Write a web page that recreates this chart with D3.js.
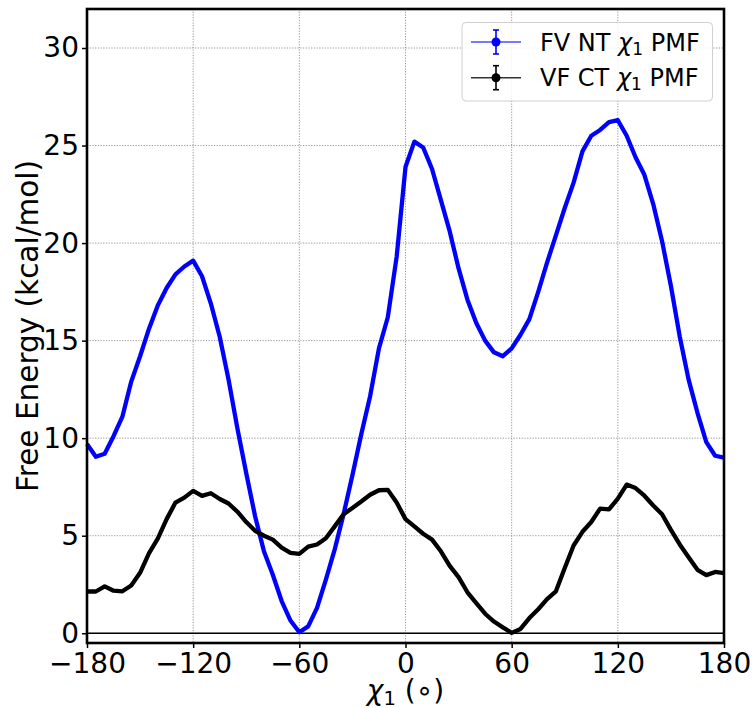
<!DOCTYPE html>
<html lang="en">
<head>
  <meta charset="UTF-8">
  <title>Chi1 PMF</title>
  <script src="https://d3js.org/d3.v7.min.js"></script>
  <style>
    body { margin: 0; background: #fff; }
    text { font-family: "DejaVu Sans", sans-serif; fill: #000; }
  </style>
</head>
<body>
<svg width="753" height="708"></svg>
<script>
  // angle grid (degrees), every 5 degrees
  const angles = d3.range(-180, 181, 5);

  // FV NT chi1 PMF (kcal/mol)
  const fvNT = [
    9.7, 9.05, 9.2, 10.1, 11.1, 12.9, 14.2, 15.6, 16.8, 17.7,
    18.4, 18.8, 19.1, 18.3, 16.9, 15.2, 13.0, 10.5, 8.2, 6.0,
    4.2, 3.0, 1.65, 0.65, 0.05, 0.35, 1.3, 2.75, 4.3, 6.1,
    8.1, 10.2, 12.15, 14.6, 16.2, 19.3, 23.9, 25.2, 24.9, 23.8,
    22.2, 20.6, 18.7, 17.1, 15.9, 15.0, 14.4, 14.2, 14.6, 15.3,
    16.1, 17.5, 19.0, 20.4, 21.8, 23.1, 24.7, 25.5, 25.8, 26.2,
    26.3, 25.5, 24.4, 23.5, 22.0, 20.1, 17.8, 15.2, 13.0, 11.3,
    9.8, 9.1, 9.0
  ];

  // VF CT chi1 PMF (kcal/mol)
  const vfCT = [
    2.14, 2.14, 2.4, 2.18, 2.15, 2.45, 3.1, 4.1, 4.85, 5.85,
    6.7, 6.95, 7.3, 7.04, 7.18, 6.88, 6.65, 6.23, 5.7, 5.25,
    5.0, 4.8, 4.39, 4.12, 4.07, 4.44, 4.55, 4.87, 5.48, 6.1,
    6.42, 6.75, 7.1, 7.33, 7.35, 6.7, 5.85, 5.48, 5.1, 4.8,
    4.2, 3.45, 2.88, 2.1, 1.55, 1.0, 0.6, 0.3, 0.02, 0.22,
    0.78, 1.23, 1.75, 2.15, 3.35, 4.5, 5.2, 5.7, 6.39, 6.35,
    6.9, 7.62, 7.44, 7.05, 6.55, 6.1, 5.3, 4.55, 3.9, 3.25,
    2.98, 3.14, 3.08
  ];

  const xTicks = [-180, -120, -60, 0, 60, 120, 180];
  const yTicks = [0, 5, 10, 15, 20, 25, 30];

  const series = [
    { name: "FV NT", values: fvNT, color: "#0000ff", legendLine: "#4d4dff" },
    { name: "VF CT", values: vfCT, color: "#000000", legendLine: "#333333" }
  ];

  const svg = d3.select("svg");
  const pL = 87, pR = 724, pT = 9, pB = 643;

  const x = d3.scaleLinear().domain([-180, 180]).range([pL, pR]);
  const y = d3.scaleLinear().domain([-0.5, 32]).range([pB, pT]);

  // grid
  const grid = svg.append("g")
      .attr("stroke", "#8a8a8a")
      .attr("stroke-width", 0.9)
      .attr("stroke-dasharray", "1.2,1.5");
  grid.selectAll(".gx").data(xTicks).enter().append("line")
      .attr("x1", d => x(d)).attr("x2", d => x(d))
      .attr("y1", pT).attr("y2", pB);
  grid.selectAll(".gy").data(yTicks).enter().append("line")
      .attr("x1", pL).attr("x2", pR)
      .attr("y1", d => y(d)).attr("y2", d => y(d));

  // zero line
  svg.append("line")
      .attr("x1", pL).attr("x2", pR)
      .attr("y1", y(0)).attr("y2", y(0))
      .attr("stroke", "#000").attr("stroke-width", 1.3);

  // curves
  const line = d3.line()
      .x((d, i) => x(angles[i]))
      .y(d => y(d));

  series.forEach(s => {
    svg.append("path")
        .datum(s.values)
        .attr("fill", "none")
        .attr("stroke", s.color)
        .attr("stroke-width", 4.3)
        .attr("stroke-linejoin", "round")
        .attr("d", line);
  });

  // axes
  const xAxis = svg.append("g")
      .attr("transform", `translate(0,${pB})`)
      .call(d3.axisBottom(x).tickValues(xTicks).tickSize(5).tickPadding(5).tickSizeOuter(0));
  const yAxis = svg.append("g")
      .attr("transform", `translate(${pL},0)`)
      .call(d3.axisLeft(y).tickValues(yTicks).tickSize(5).tickPadding(3).tickSizeOuter(0));

  [xAxis, yAxis].forEach(a => {
    a.select(".domain").remove();
    a.selectAll(".tick line").attr("stroke", "#000").attr("stroke-width", 1.5);
    a.selectAll(".tick text")
        .attr("font-family", "DejaVu Sans")
        .attr("font-size", 28)
        .attr("fill", "#000");
  });
  xAxis.selectAll(".tick text").attr("dy", "0.72em");

  // frame
  svg.append("rect")
      .attr("x", pL).attr("y", pT)
      .attr("width", pR - pL).attr("height", pB - pT)
      .attr("fill", "none")
      .attr("stroke", "#000")
      .attr("stroke-width", 2.6);

  // axis labels
  const xl = svg.append("text")
      .attr("x", (pL + pR) / 2)
      .attr("y", 700)
      .attr("text-anchor", "middle")
      .attr("font-size", 28);
  xl.append("tspan").attr("font-style", "italic").text("χ");
  xl.append("tspan").attr("font-size", 19.5).attr("dy", 5).text("1");
  xl.append("tspan").attr("dy", -5).text(" (∘)");

  svg.append("text")
      .attr("transform", `translate(38,${(pT + pB) / 2}) rotate(-90)`)
      .attr("text-anchor", "middle")
      .attr("font-size", 29.5)
      .text("Free Energy (kcal/mol)");

  // legend
  const lg = svg.append("g");
  lg.append("rect")
      .attr("x", 462).attr("y", 22.5)
      .attr("width", 250.5).attr("height", 78.5)
      .attr("rx", 4)
      .attr("fill", "#fff").attr("fill-opacity", 0.85)
      .attr("stroke", "#d0d0d0").attr("stroke-width", 1);

  series.forEach((s, i) => {
    const cy = 42 + i * 35.7;
    const g = lg.append("g");
    g.append("line")
        .attr("x1", 471).attr("x2", 521)
        .attr("y1", cy).attr("y2", cy)
        .attr("stroke", s.legendLine).attr("stroke-width", 1.6);
    g.append("line")
        .attr("x1", 496).attr("x2", 496)
        .attr("y1", cy - 12).attr("y2", cy + 12)
        .attr("stroke", s.color).attr("stroke-width", 1.6);
    [-12, 12].forEach(o => g.append("line")
        .attr("x1", 493).attr("x2", 499)
        .attr("y1", cy + o).attr("y2", cy + o)
        .attr("stroke", s.color).attr("stroke-width", 1.6));
    g.append("circle")
        .attr("cx", 496).attr("cy", cy).attr("r", 4.5)
        .attr("fill", s.color);
    const t = g.append("text")
        .attr("x", 540).attr("y", cy + 8.5)
        .attr("font-size", 24);
    t.append("tspan").text(s.name + " ");
    t.append("tspan").attr("font-style", "italic").text("χ");
    t.append("tspan").attr("font-size", 17).attr("dy", 4).text("1");
    t.append("tspan").attr("dy", -4).text(" PMF");
  });
</script>
</body>
</html>
